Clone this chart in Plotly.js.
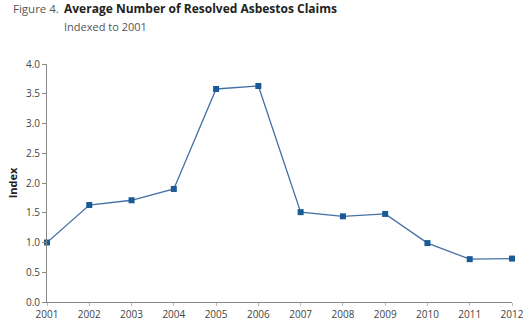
<!DOCTYPE html>
<html>
<head>
<meta charset="utf-8">
<script src="https://cdn.plot.ly/plotly-3.0.1.min.js"></script>
<style>html,body{margin:0;padding:0;background:#fff;}#chart{width:530px;height:331px;}</style>
</head>
<body>
<div id="chart"></div>
<script>
var years = ['2001','2002','2003','2004','2005','2006','2007','2008','2009','2010','2011','2012'];
var indexValues = [1.0, 1.63, 1.71, 1.90, 3.58, 3.63, 1.51, 1.44, 1.48, 0.99, 0.72, 0.73];
var yTicks = [0, 0.5, 1, 1.5, 2, 2.5, 3, 3.5, 4];
var yTickLabels = ['0.0','0.5','1.0','1.5','2.0','2.5','3.0','3.5','4.0'];

var trace = {
  x: years.map(Number),
  y: indexValues,
  type: 'scatter',
  mode: 'lines+markers',
  line: {color: '#4470a3', width: 1.3},
  marker: {symbol: 'square', size: 6, color: '#1a5a96'},
  cliponaxis: false,
  hoverinfo: 'x+y'
};

var layout = {
  width: 530, height: 331,
  margin: {l: 47, r: 18, t: 64, b: 29},
  paper_bgcolor: '#fff', plot_bgcolor: '#fff',
  font: {family: 'Open Sans, sans-serif', color: '#444', size: 10},
  showlegend: false,
  xaxis: {
    range: [2001, 2012],
    tickvals: years.map(Number),
    ticktext: years,
    showgrid: false, zeroline: false,
    showline: true, linecolor: '#888', linewidth: 1,
    ticks: 'outside', ticklen: 3, tickcolor: '#bbb',
    tickfont: {size: 10, color: '#444'},
    fixedrange: true
  },
  yaxis: {
    range: [0, 4],
    tickvals: yTicks,
    ticktext: yTickLabels,
    showgrid: false, zeroline: false,
    showline: true, linecolor: '#888', linewidth: 1,
    ticks: 'outside', ticklen: 4, tickcolor: '#888',
    tickfont: {size: 10, color: '#444'},
    title: {text: '<b>Index</b>', font: {size: 11, color: '#222'}, standoff: 6},
    fixedrange: true
  },
  annotations: [
    {text: 'Figure 4.', xref: 'paper', yref: 'paper', x: -0.078, y: 1.232, xanchor: 'left', yanchor: 'middle', showarrow: false, font: {size: 11.5, color: '#555'}},
    {text: '<b>Average Number of Resolved Asbestos Claims</b>', xref: 'paper', yref: 'paper', x: 0.033, y: 1.232, xanchor: 'left', yanchor: 'middle', showarrow: false, font: {size: 12, color: '#222'}},
    {text: 'Indexed to 2001', xref: 'paper', yref: 'paper', x: 0.033, y: 1.158, xanchor: 'left', yanchor: 'middle', showarrow: false, font: {size: 11, color: '#555'}}
  ]
};

Plotly.newPlot('chart', [trace], layout, {displayModeBar: false, staticPlot: true});
</script>
</body>
</html>
